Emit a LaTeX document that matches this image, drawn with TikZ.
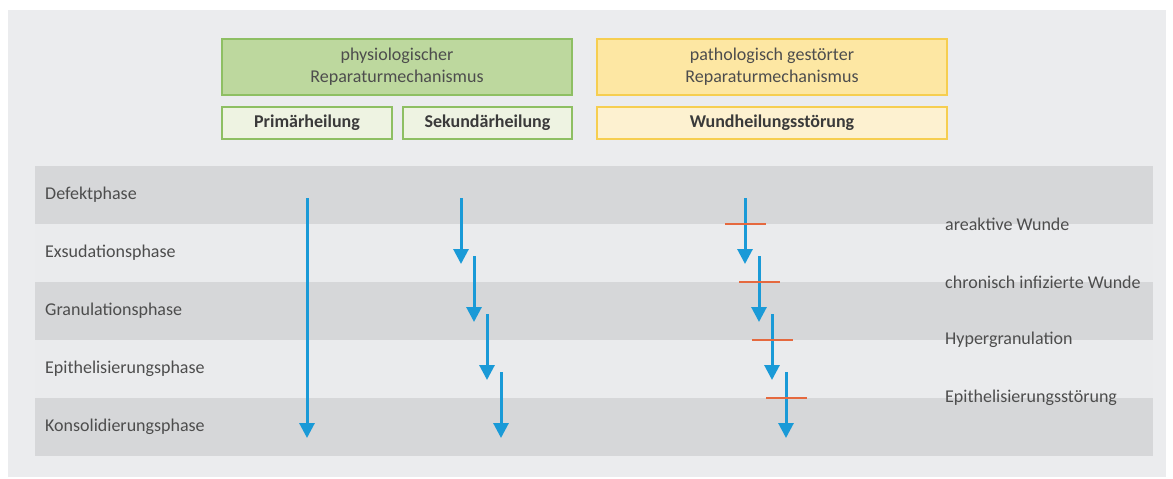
\documentclass[tikz,border=0pt]{standalone}
\usepackage{fontspec}
\setmainfont{Carlito}
\usetikzlibrary{arrows.meta}
\definecolor{panel}{HTML}{EBECEE}
\definecolor{banddark}{HTML}{D6D7D9}
\definecolor{bandlight}{HTML}{EAEBED}
\definecolor{grnfill}{HTML}{BDD89E}
\definecolor{grnline}{HTML}{8EBF63}
\definecolor{grnpale}{HTML}{EEF3E2}
\definecolor{yelfill}{HTML}{FDE7A3}
\definecolor{yelline}{HTML}{F6CE50}
\definecolor{yelpale}{HTML}{FDF1D0}
\definecolor{arrowblue}{HTML}{1A9AD7}
\definecolor{barred}{HTML}{E5693F}
\definecolor{txt}{HTML}{4D4D4D}
\begin{document}
\begin{tikzpicture}[x=1pt,y=-1pt,
  font=\fontsize{18}{22}\selectfont,
  phase/.style={anchor=west,text=txt,inner sep=0pt},
  fault/.style={anchor=west,text=txt,inner sep=0pt},
  bigbox/.style={draw,line width=1.2pt,minimum width=350pt,minimum height=56pt,align=center,text=txt,inner sep=0pt},
  smallbox/.style={draw,line width=1.2pt,minimum height=32pt,align=center,text=txt!75!black,inner sep=0pt,font=\fontsize{18}{22}\selectfont\bfseries},
  flow/.style={arrowblue,line width=3pt,-{Triangle[width=15pt,length=15pt]}},
  stopbar/.style={barred,line width=2.4pt}
]
\useasboundingbox (0,0) rectangle (1173,479);
\fill[white] (0,0) rectangle (1173,479);
\fill[panel] (8,10) rectangle (1166,477);
% bands
\fill[banddark] (35,166) rectangle (1153,224);
\fill[bandlight] (35,224) rectangle (1153,282);
\fill[banddark] (35,282) rectangle (1153,340);
\fill[bandlight] (35,340) rectangle (1153,398);
\fill[banddark] (35,398) rectangle (1153,456);
% top boxes
\node[bigbox,draw=grnline,fill=grnfill] (phys) at (397,67) {physiologischer\\Reparaturmechanismus};
\node[bigbox,draw=yelline,fill=yelfill] (path) at (772,67) {pathologisch gestörter\\Reparaturmechanismus};
\node[smallbox,draw=grnline,fill=grnpale,minimum width=170pt] (prim) at (307,123) {Primärheilung};
\node[smallbox,draw=grnline,fill=grnpale,minimum width=169pt] (sek) at (487.5,123) {Sekundärheilung};
\node[smallbox,draw=yelline,fill=yelpale,minimum width=350pt] (wund) at (772,123) {Wundheilungsstörung};
% phase labels
\node[phase] (p1) at (45,195) {Defektphase};
\node[phase] (p2) at (45,253) {Exsudationsphase};
\node[phase] (p3) at (45,311) {Granulationsphase};
\node[phase] (p4) at (45,369) {Epithelisierungsphase};
\node[phase] (p5) at (45,427) {Konsolidierungsphase};
% fault labels
\node[fault] (f1) at (945,224) {areaktive Wunde};
\node[fault] (f2) at (945,282) {chronisch infizierte Wunde};
\node[fault] (f3) at (945,340) {Hypergranulation};
\node[fault] (f4) at (945,398) {Epithelisierungsstörung};
% primary healing arrow
\coordinate (a0s) at (307,198);
\coordinate (a0e) at (307,438);
\draw[flow] (a0s) -- (a0e);
% secondary healing arrows
\coordinate (b1s) at (461,198); \coordinate (b1e) at (461,264);
\coordinate (b2s) at (474,256); \coordinate (b2e) at (474,322);
\coordinate (b3s) at (487,314); \coordinate (b3e) at (487,380);
\coordinate (b4s) at (501,372); \coordinate (b4e) at (501,438);
\draw[flow] (b1s) -- (b1e);
\draw[flow] (b2s) -- (b2e);
\draw[flow] (b3s) -- (b3e);
\draw[flow] (b4s) -- (b4e);
% pathological arrows
\coordinate (c1s) at (745,198); \coordinate (c1e) at (745,264);
\coordinate (c2s) at (759,256); \coordinate (c2e) at (759,322);
\coordinate (c3s) at (772,314); \coordinate (c3e) at (772,380);
\coordinate (c4s) at (786,372); \coordinate (c4e) at (786,438);
\draw[flow] (c1s) -- (c1e);
\draw[flow] (c2s) -- (c2e);
\draw[flow] (c3s) -- (c3e);
\draw[flow] (c4s) -- (c4e);
% stop bars
\coordinate (r1a) at (725,224); \coordinate (r1b) at (766,224);
\coordinate (r2a) at (739,282); \coordinate (r2b) at (780,282);
\coordinate (r3a) at (752,340); \coordinate (r3b) at (793,340);
\coordinate (r4a) at (766,398); \coordinate (r4b) at (807,398);
\draw[stopbar] (r1a) -- (r1b);
\draw[stopbar] (r2a) -- (r2b);
\draw[stopbar] (r3a) -- (r3b);
\draw[stopbar] (r4a) -- (r4b);
\end{tikzpicture}
\end{document}
